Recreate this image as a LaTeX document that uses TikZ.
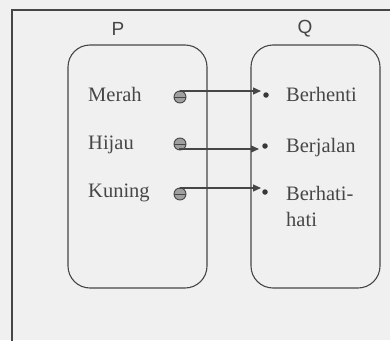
\documentclass[tikz,border=0pt]{standalone}
\usepackage{fontspec}
\setmainfont{Liberation Serif}
\newfontfamily\labelfont{Liberation Sans}
\usetikzlibrary{arrows.meta}
\definecolor{bgc}{RGB}{240,240,240}
\definecolor{ln}{RGB}{70,70,70}
\definecolor{txt}{RGB}{70,70,70}
\tikzset{
  setbox/.style={draw=ln, line width=1.1pt, rounded corners=22pt},
  item/.style={text=txt, font=\fontsize{20.5}{26}\selectfont, inner sep=0pt, anchor=base west},
  setlabel/.style={text=txt, font=\labelfont\fontsize{19}{20}\selectfont, inner sep=0pt},
  src/.style={circle, draw=ln, fill=gray!75, minimum size=12pt, inner sep=0pt, line width=0.9pt},
  dst/.style={circle, fill=ln!80!black, minimum size=5.5pt, inner sep=0pt},
  mapto/.style={draw=ln, line width=1.1pt, -{Triangle[length=8pt,width=7pt]}}
}
\begin{document}
\begin{tikzpicture}[x=1pt,y=-1pt]
\useasboundingbox (0,0) rectangle (390,340);
\fill[bgc] (0,0) rectangle (390,340);
% outer frame
\draw[ln, line width=1.1pt] (12,350) -- (12,10) -- (400,10);
% set boxes
\draw[setbox] (68,45) rectangle (207,288);
\draw[setbox] (251,45) rectangle (380,288);
\node[setlabel] (P) at (118,29) {P};
\node[setlabel] (Q) at (305,29) {Q};
% domain items
\node[item] (merah) at (88,101) {Merah};
\node[item] (hijau) at (88,149) {Hijau};
\node[item] (kuning) at (88,197) {Kuning};
% codomain items
\node[item] (berhenti) at (286,101) {Berhenti};
\node[item] (berjalan) at (286,152) {Berjalan};
\node[item] (berhati) at (286,200) {Berhati-};
\node[item] (hati) at (286,226) {hati};
% source dots
\node[src] (s1) at (180,97) {};
\node[src] (s2) at (180,144) {};
\node[src] (s3) at (180,194) {};
\foreach \s in {s1,s2,s3} \draw[ln, line width=0.9pt] (\s.west) -- (\s.east);
% target dots
\node[dst] (t1) at (266,95) {};
\node[dst] (t2) at (265,146) {};
\node[dst] (t3) at (265,192) {};
% arrows
\coordinate (a1) at (261,91);
\coordinate (a2) at (259,149);
\coordinate (a3) at (261,188);
\draw[mapto] (s1.north) |- (a1);
\draw[mapto] (s2.south) |- (a2);
\draw[mapto] (s3.north) |- (a3);
\end{tikzpicture}
\end{document}
